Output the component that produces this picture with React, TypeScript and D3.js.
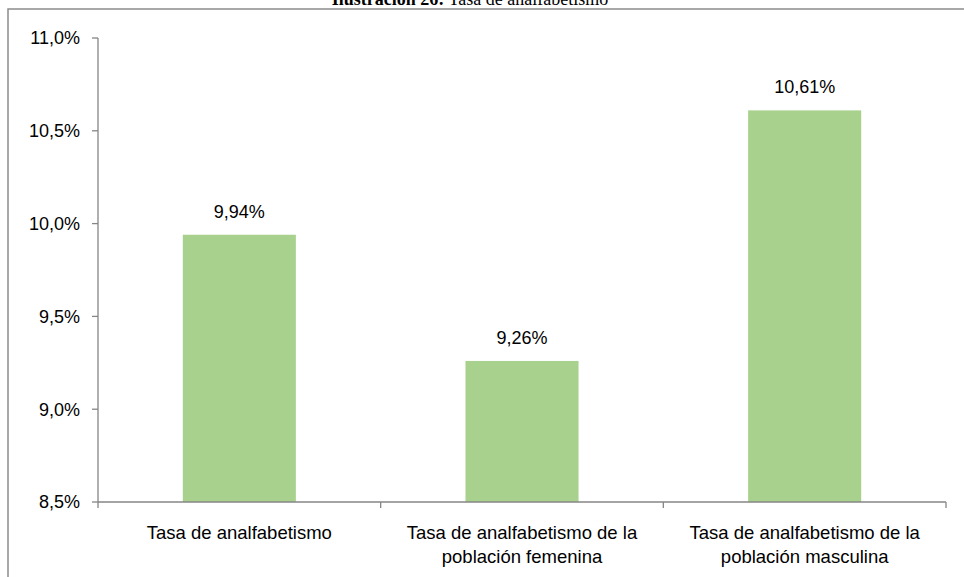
import * as d3 from 'd3';

const categories = [
  ['Tasa de analfabetismo'],
  ['Tasa de analfabetismo de la', 'población femenina'],
  ['Tasa de analfabetismo de la', 'población masculina'],
];
const values = [9.94, 9.26, 10.61];
const valueLabels = ['9,94%', '9,26%', '10,61%'];
const yTicks = [8.5, 9.0, 9.5, 10.0, 10.5, 11.0];

const W = 964;
const H = 577;
const margin = { top: 38, right: 18, bottom: 75, left: 98 };
const font = '"Liberation Sans", Arial, sans-serif';

export default function App() {
  const innerW = W - margin.left - margin.right;
  const innerH = H - margin.top - margin.bottom;

  const x = d3.scaleBand<number>()
    .domain(values.map((_, i) => i))
    .range([0, innerW])
    .paddingInner(0.6)
    .paddingOuter(0.3);

  const y = d3.scaleLinear().domain([8.5, 11]).range([innerH, 0]);

  const step = x.step();
  const fmt = (v: number) => v.toFixed(1).replace('.', ',') + '%';

  return (
    <svg width={W} height={H} style={{ position: 'fixed', left: 0, top: 0, background: '#fff' }}>
      {/* clipped caption above the frame */}
      <text x={470} y={5} textAnchor="middle" fontFamily='"Liberation Serif", "Times New Roman", serif' fontSize={18}>
        <tspan fontWeight="bold">Ilustración 26:</tspan>
        <tspan> Tasa de analfabetismo</tspan>
      </text>
      {/* chart frame */}
      <rect x={8} y={9} width={W + 20} height={H + 20} fill="none" stroke="#8c8c8c" strokeWidth={1.5} />

      <g transform={`translate(${margin.left},${margin.top})`}>
        {/* bars */}
        {values.map((v, i) => (
          <rect key={i} x={x(i)} y={y(v)} width={x.bandwidth()} height={innerH - y(v)} fill="#a9d18e" />
        ))}
        {values.map((v, i) => (
          <text key={'l' + i} x={(x(i) as number) + x.bandwidth() / 2} y={y(v) - 17}
            textAnchor="middle" fontFamily={font} fontSize={18} fill="#000">
            {valueLabels[i]}
          </text>
        ))}

        {/* y axis */}
        <line x1={0} x2={0} y1={0} y2={innerH} stroke="#868686" strokeWidth={1.3} />
        {yTicks.map(t => (
          <g key={t} transform={`translate(0,${y(t)})`}>
            <line x1={-6} x2={0} stroke="#868686" strokeWidth={1.3} />
            <text x={-18} dy="0.35em" textAnchor="end" fontFamily={font} fontSize={18} fill="#000">{fmt(t)}</text>
          </g>
        ))}

        {/* x axis */}
        <line x1={0} x2={innerW} y1={innerH} y2={innerH} stroke="#868686" strokeWidth={1.3} />
        {d3.range(values.length + 1).map(i => (
          <line key={i} x1={i * step} x2={i * step} y1={innerH} y2={innerH + 6} stroke="#868686" strokeWidth={1.3} />
        ))}
        {categories.map((lines, i) => (
          <text key={i} textAnchor="middle" fontFamily={font} fontSize={18.5} fill="#000">
            {lines.map((ln, j) => (
              <tspan key={j} x={(x(i) as number) + x.bandwidth() / 2} y={innerH + 37 + j * 24}>{ln}</tspan>
            ))}
          </text>
        ))}
      </g>
    </svg>
  );
}
